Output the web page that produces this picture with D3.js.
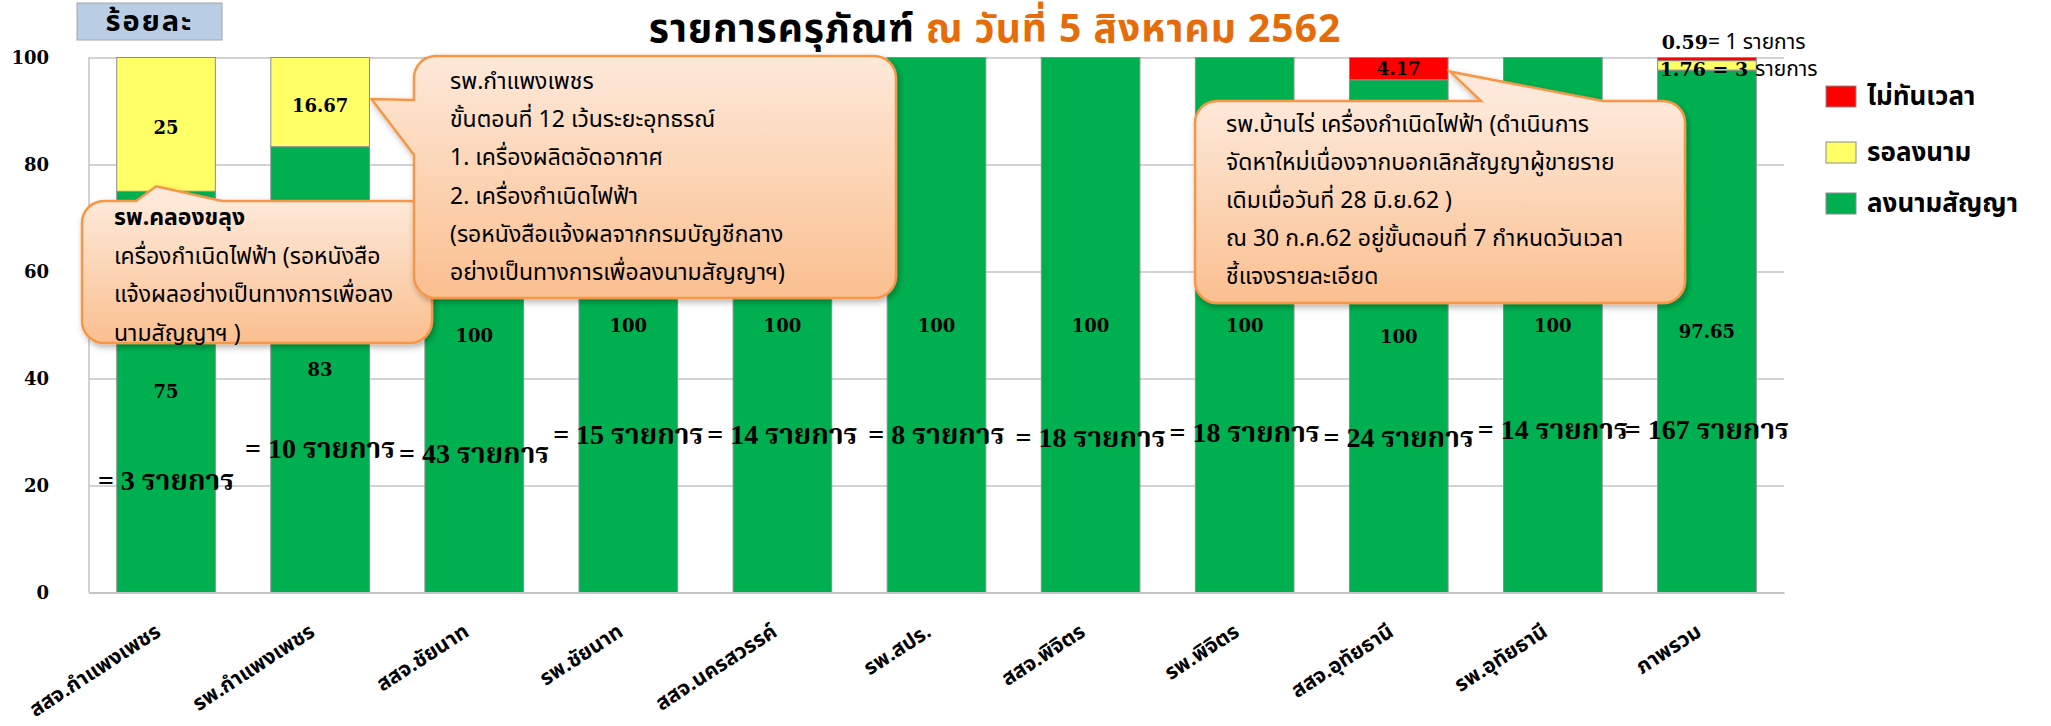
<!DOCTYPE html>
<html>
<head>
<meta charset="utf-8">
<script src="https://cdn.jsdelivr.net/npm/d3@7"></script>
<style>
  body { margin: 0; background: #fff; }
  svg { display: block; }
</style>
</head>
<body>
<div id="chart"></div>
<script>
// data (percent)
const categories = ["สสจ.กำแพงเพชร", "รพ.กำแพงเพชร", "สสจ.ชัยนาท", "รพ.ชัยนาท", "สสจ.นครสวรรค์",
  "รพ.สปร.", "สสจ.พิจิตร", "รพ.พิจิตร", "สสจ.อุทัยธานี", "รพ.อุทัยธานี", "ภาพรวม"];
const signed = [75, 83.33, 100, 100, 100, 100, 100, 100, 95.83, 100, 97.65];
const waiting = [25, 16.67, 0, 0, 0, 0, 0, 0, 0, 0, 1.76];
const late = [0, 0, 0, 0, 0, 0, 0, 0, 4.17, 0, 0.59];
const signedLabels = ["75", "83", "100", "100", "100", "100", "100", "100", "100", "100", "97.65"];
const itemCounts = [3, 10, 43, 15, 14, 8, 18, 18, 24, 14, 167];
const yTicks = [0, 20, 40, 60, 80, 100];
const seriesNames = ["ไม่ทันเวลา", "รอลงนาม", "ลงนามสัญญา"];
const seriesColors = ["#ff0000", "#ffff66", "#00b050"];

const W = 2051, H = 726;
const thai = "'Noto Sans Thai', 'Noto Sans Thai UI', 'Loma', 'Garuda', 'Norasi', 'DejaVu Sans', sans-serif";
const serif = "'Liberation Serif', 'Times New Roman', 'Noto Serif Thai', 'Norasi', serif";
const wideSerif = "'DejaVu Serif', 'Liberation Serif', serif";

const svg = d3.select("#chart").append("svg")
    .attr("width", W)
    .attr("height", H);

const defs = svg.append("defs");
const shadow = defs.append("filter").attr("id", "shadow")
    .attr("x", "-10%").attr("y", "-10%").attr("width", "130%").attr("height", "130%");
shadow.append("feDropShadow")
    .attr("dx", 2).attr("dy", 3).attr("stdDeviation", 3)
    .attr("flood-color", "#000").attr("flood-opacity", 0.3);

const left = 89, right = 1784;

const x = d3.scaleBand()
    .domain(categories)
    .range([left, right])
    .paddingInner(0.36)
    .paddingOuter(0.18);

const y = d3.scaleLinear()
    .domain([0, 100])
    .range([592.5, 57.5]);

// gridlines
svg.append("g")
    .attr("transform", `translate(${left},0)`)
    .call(d3.axisLeft(y).tickValues(yTicks).tickSize(-(right - left)).tickFormat(""))
    .call(g => g.select(".domain").remove())
    .selectAll("line")
    .attr("stroke", "#c4c4c4")
    .attr("stroke-width", 1.5);

svg.append("line")
    .attr("x1", left).attr("x2", left)
    .attr("y1", y(0)).attr("y2", y(100))
    .attr("stroke", "#c4c4c4")
    .attr("stroke-width", 1.5);

// y tick labels
svg.append("g")
    .attr("transform", `translate(${left},0)`)
    .call(d3.axisLeft(y).tickValues(yTicks).tickSize(0).tickPadding(40))
    .call(g => g.select(".domain").remove())
    .selectAll("text")
    .style("font-family", wideSerif)
    .style("font-weight", "bold")
    .style("font-size", "18px")
    .attr("fill", "#000");

// stacked bars
const stackRows = categories.map((c, i) => ({ cat: c, signed: signed[i], waiting: waiting[i], late: late[i] }));
const stack = d3.stack().keys(["signed", "waiting", "late"])(stackRows);
const colorOf = { signed: "#00b050", waiting: "#ffff66", late: "#ff0000" };

svg.append("g").selectAll("g")
    .data(stack)
    .join("g")
    .attr("fill", d => colorOf[d.key])
    .selectAll("rect")
    .data(d => d.filter(s => s[1] - s[0] > 0))
    .join("rect")
    .attr("x", d => x(d.data.cat))
    .attr("y", d => y(d[1]))
    .attr("width", x.bandwidth())
    .attr("height", d => y(d[0]) - y(d[1]))
    .attr("stroke", "#8c8c8c")
    .attr("stroke-width", 1);

// value labels inside bars
const labelG = svg.append("g")
    .style("font-family", wideSerif)
    .style("font-weight", "bold")
    .style("font-size", "18px")
    .attr("text-anchor", "middle")
    .attr("dominant-baseline", "central");

labelG.selectAll(".sl")
    .data(categories)
    .join("text")
    .attr("x", d => x(d) + x.bandwidth() / 2)
    .attr("y", (d, i) => y(signed[i] / 2) + (i === 2 ? 10 : 0))
    .text((d, i) => signedLabels[i]);

labelG.selectAll(".wl")
    .data(categories.filter((c, i) => waiting[i] >= 5))
    .join("text")
    .attr("x", d => x(d) + x.bandwidth() / 2)
    .attr("y", d => { const i = categories.indexOf(d); return y(signed[i] + waiting[i] / 2) + 3; })
    .text(d => waiting[categories.indexOf(d)]);

labelG.selectAll(".ll")
    .data(categories.filter((c, i) => late[i] >= 3))
    .join("text")
    .attr("x", d => x(d) + x.bandwidth() / 2)
    .attr("y", d => { const i = categories.indexOf(d); return y(signed[i] + waiting[i] + late[i] / 2); })
    .text(d => late[categories.indexOf(d)]);

// item count labels (hand placed heights in the original)
const countLevel = [21, 27, 26, 29.5, 29.5, 29.5, 29, 30, 29, 30.5, 30.5];
svg.append("g").selectAll("text")
    .data(categories)
    .join("text")
    .attr("x", d => x(d) + x.bandwidth() / 2)
    .attr("y", (d, i) => y(countLevel[i]))
    .attr("text-anchor", "middle")
    .attr("dominant-baseline", "central")
    .style("font-family", serif)
    .style("font-weight", "bold")
    .style("font-size", "28px")
    .text((d, i) => `= ${itemCounts[i]} รายการ`);

// small notes above the overall bar
const last = categories.length - 1;
const note1 = svg.append("text")
    .attr("x", x(categories[last]) + 4)
    .attr("y", y(100) - 16)
    .attr("dominant-baseline", "central")
    .style("font-size", "21px");
note1.append("tspan").style("font-family", wideSerif).style("font-weight", "bold").style("font-size", "19px").text(late[last]);
note1.append("tspan").style("font-family", thai).text(`= 1 รายการ`);

const note2 = svg.append("text")
    .attr("x", x(categories[last]) + 2)
    .attr("y", y(100) + 11)
    .attr("dominant-baseline", "central")
    .style("font-size", "21px");
note2.append("tspan").style("font-family", wideSerif).style("font-weight", "bold").style("font-size", "19px").text(`${waiting[last]} = 3 `);
note2.append("tspan").style("font-family", thai).text("รายการ");

// x axis
svg.append("g")
    .attr("transform", `translate(0,${y(0)})`)
    .call(d3.axisBottom(x).tickSize(0).tickFormat(""))
    .select(".domain")
    .attr("stroke", "#c4c4c4")
    .attr("stroke-width", 2);

svg.append("g").selectAll("text")
    .data(categories)
    .join("text")
    .attr("transform", d => `translate(${x(d) + x.bandwidth() / 2 - 4},635) rotate(-33)`)
    .attr("text-anchor", "end")
    .style("font-family", thai)
    .style("font-weight", "bold")
    .style("font-size", "21px")
    .text(d => d);

// unit box
svg.append("rect")
    .attr("x", 77).attr("y", 3)
    .attr("width", 145).attr("height", 37)
    .attr("fill", "#b9cde5")
    .attr("stroke", "#a6a6a6");
svg.append("text")
    .attr("x", 149.5).attr("y", 22)
    .attr("text-anchor", "middle")
    .attr("dominant-baseline", "central")
    .style("font-family", thai)
    .style("font-weight", "bold")
    .style("font-size", "29px")
    .style("letter-spacing", "2px")
    .text("ร้อยละ");

// title
const title = svg.append("text")
    .attr("x", 995).attr("y", 42)
    .attr("text-anchor", "middle")
    .style("font-family", thai)
    .style("font-weight", "bold")
    .style("font-size", "39px")
    .style("letter-spacing", "1px");
title.append("tspan").attr("fill", "#000").text("รายการครุภัณฑ์ ");
title.append("tspan").attr("fill", "#e46c0a").text("ณ วันที่ 5 สิงหาคม 2562");

// legend
const legend = svg.append("g").selectAll("g")
    .data(seriesNames)
    .join("g")
    .attr("transform", (d, i) => `translate(1826,${[86, 142, 193][i]})`);
legend.append("rect")
    .attr("width", 30).attr("height", 21)
    .attr("fill", (d, i) => seriesColors[i])
    .attr("stroke", "#8c8c8c");
legend.append("text")
    .attr("x", 41).attr("y", 11)
    .attr("dominant-baseline", "central")
    .style("font-family", thai)
    .style("font-weight", "bold")
    .style("font-size", "26px")
    .text(d => d);

// callouts
function calloutPath(bx, by, w, h, r, ptr) {
    const p = d3.path();
    p.moveTo(bx + r, by);
    if (ptr.side === "top") {
        p.lineTo(ptr.a, by);
        p.lineTo(ptr.tip[0], ptr.tip[1]);
        p.lineTo(ptr.b, by);
    }
    p.lineTo(bx + w - r, by);
    p.arcTo(bx + w, by, bx + w, by + r, r);
    p.lineTo(bx + w, by + h - r);
    p.arcTo(bx + w, by + h, bx + w - r, by + h, r);
    p.lineTo(bx + r, by + h);
    p.arcTo(bx, by + h, bx, by + h - r, r);
    if (ptr.side === "left") {
        p.lineTo(bx, ptr.b);
        p.lineTo(ptr.tip[0], ptr.tip[1]);
        p.lineTo(bx, ptr.a);
    }
    p.lineTo(bx, by + r);
    p.arcTo(bx, by, bx + r, by, r);
    p.closePath();
    return p.toString();
}

function callout(id, bx, by, w, h, ptr, lines, tx, ty, lh, boldFirst) {
    const grad = defs.append("linearGradient").attr("id", id)
        .attr("gradientUnits", "userSpaceOnUse")
        .attr("x1", 0).attr("y1", by).attr("x2", 0).attr("y2", by + h);
    grad.append("stop").attr("offset", "0%").attr("stop-color", "#fde9d9");
    grad.append("stop").attr("offset", "100%").attr("stop-color", "#fabf8f");

    const g = svg.append("g");
    g.append("path")
        .attr("d", calloutPath(bx, by, w, h, 22, ptr))
        .attr("fill", `url(#${id})`)
        .attr("stroke", "#f79646")
        .attr("stroke-width", 2.5)
        .attr("filter", "url(#shadow)");
    g.selectAll("text")
        .data(lines)
        .join("text")
        .attr("x", tx)
        .attr("y", (d, i) => ty + i * lh)
        .attr("dominant-baseline", "central")
        .style("font-family", thai)
        .style("font-size", "23px")
        .style("font-weight", (d, i) => boldFirst && i === 0 ? "bold" : "normal")
        .attr("fill", "#000")
        .text(d => d);
}

const bw = x.bandwidth();
callout("gA", 82, 201, 350, 142,
    { side: "top", a: 136, b: 222, tip: [x(categories[0]) + bw * 0.4, y(signed[0]) - 5] },
    ["รพ.คลองขลุง", "เครื่องกำเนิดไฟฟ้า (รอหนังสือ", "แจ้งผลอย่างเป็นทางการเพื่อลง", "นามสัญญาฯ )"],
    114, 218, 38.5, true);

callout("gB", 414, 56, 482, 242,
    { side: "left", a: 100, b: 155, tip: [x(categories[1]) + bw + 2, y(signed[1] + waiting[1] / 2) - 3] },
    ["รพ.กำแพงเพชร", "ขั้นตอนที่ 12 เว้นระยะอุทธรณ์", "1. เครื่องผลิตอัดอากาศ", "2. เครื่องกำเนิดไฟฟ้า",
        "(รอหนังสือแจ้งผลจากกรมบัญชีกลาง", "อย่างเป็นทางการเพื่อลงนามสัญญาฯ)"],
    450, 82, 38.2, false);

callout("gC", 1195, 101, 490, 202,
    { side: "top", a: 1481, b: 1603, tip: [x(categories[8]) + bw + 2, y(signed[8] + late[8] / 2) + 3] },
    ["รพ.บ้านไร่   เครื่องกำเนิดไฟฟ้า (ดำเนินการ", "จัดหาใหม่เนื่องจากบอกเลิกสัญญาผู้ขายราย",
        "เดิมเมื่อวันที่ 28 มิ.ย.62 )", "ณ 30 ก.ค.62 อยู่ขั้นตอนที่ 7 กำหนดวันเวลา", "ชี้แจงรายละเอียด"],
    1226, 125, 38, false);
</script>
</body>
</html>
